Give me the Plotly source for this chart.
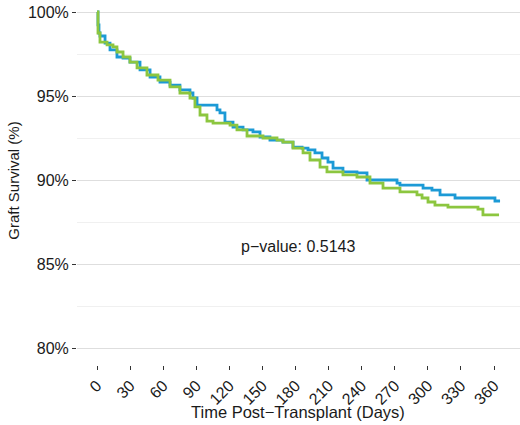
import plotly.graph_objects as go

# Kaplan-Meier style step data
blue_days = [0, 0.9, 1.8, 2.7, 7.3, 11.8, 18.1, 23.6, 29.9, 39.0, 48.1, 57.1, 66.2, 75.2, 84.3, 87.0,
             90.7, 104.3, 108.8, 111.5, 116.0, 123.3, 132.4, 141.4, 147.8, 156.8, 168.6, 177.7,
             185.9, 191.3, 197.6, 204.0, 209.4, 214.0, 223.0, 235.7, 244.8, 265.6, 272.0, 274.7,
             292.8, 295.6, 303.7, 311.0, 324.6, 359.0, 360.8, 365.4]
blue_surv = [100, 99.23, 98.75, 98.57, 98.15, 97.74, 97.32, 97.26, 97.02, 96.55, 96.13, 95.83, 95.65,
             95.36, 95.18, 94.88, 94.46, 94.46, 94.17, 93.99, 93.45, 93.15, 92.98, 92.86, 92.56,
             92.38, 92.26, 91.96, 91.90, 91.79, 91.61, 91.31, 91.07, 90.71, 90.48, 90.42, 90.0,
             90.0, 89.82, 89.70, 89.70, 89.52, 89.40, 89.11, 88.93, 88.93, 88.75, 88.75]

green_days = [0, 0.9, 2.7, 9.1, 14.5, 18.1, 23.6, 29.9, 36.3, 45.3, 55.3, 66.2, 75.2, 84.3, 88.8,
              93.4, 99.7, 105.2, 114.2, 120.6, 126.9, 136.0, 150.5, 163.2, 168.6, 177.7, 186.8,
              193.1, 202.2, 208.5, 223.0, 235.7, 247.5, 259.3, 274.7, 290.1, 294.7, 300.1, 306.4,
              318.2, 345.4, 349.9, 364.5]
green_surv = [100, 98.75, 98.21, 98.04, 97.92, 97.62, 97.32, 97.02, 96.67, 96.25, 95.95, 95.54,
              95.18, 94.88, 94.35, 93.87, 93.51, 93.39, 93.39, 93.27, 92.98, 92.62, 92.5, 92.38,
              92.26, 91.90, 91.61, 91.19, 90.77, 90.48, 90.30, 90.18, 89.82, 89.52, 89.29, 89.11,
              88.93, 88.69, 88.51, 88.39, 88.27, 87.92, 87.92]

x_ticks = list(range(0, 361, 30))
y_ticks = [80, 85, 90, 95, 100]
y_tick_labels = ["80%", "85%", "90%", "95%", "100%"]
p_value_text = "p\u2212value: 0.5143"
x_title = "Time Post\u2212Transplant (Days)"
y_title = "Graft Survival (%)"

fig = go.Figure()
fig.add_trace(go.Scatter(x=blue_days, y=blue_surv, mode="lines", line_shape="hv",
                         line=dict(color="#1C9AD6", width=2.8), showlegend=False))
fig.add_trace(go.Scatter(x=green_days, y=green_surv, mode="lines", line_shape="hv",
                         line=dict(color="#8CC63F", width=2.8), showlegend=False))

fig.add_annotation(x=181.8, y=86.07, text=p_value_text, showarrow=False,
                   xanchor="center", yanchor="middle",
                   font=dict(size=16, color="#1a1a1a"))
fig.add_annotation(x=0.499, y=-0.1288, xref="paper", yref="paper", text=x_title,
                   showarrow=False, xanchor="center", yanchor="middle",
                   font=dict(size=16.5, color="#1a1a1a"))
fig.add_annotation(x=-0.1422, y=0.505, xref="paper", yref="paper", text=y_title,
                   showarrow=False, xanchor="center", yanchor="middle", textangle=-90,
                   font=dict(size=15, color="#1a1a1a"))

font_family = "Liberation Sans, Arial, sans-serif"
fig.update_layout(
    width=520, height=425,
    margin=dict(l=77, r=0, t=0, b=60),
    paper_bgcolor="white", plot_bgcolor="white",
    font=dict(family=font_family, color="#1a1a1a"),
    xaxis=dict(range=[-18.13, 383.5], tickvals=x_ticks, ticktext=[str(v) for v in x_ticks],
               tickangle=-45, ticks="outside", ticklen=4, tickwidth=1, tickcolor="#333333",
               showgrid=False, zeroline=False, showline=False, automargin=False,
               tickfont=dict(size=16, color="#1a1a1a")),
    yaxis=dict(range=[78.99, 100.714], tickvals=y_ticks, ticktext=y_tick_labels,
               ticks="outside", ticklen=4, tickwidth=1, tickcolor="#333333",
               showgrid=True, gridcolor="#DEDEDE", gridwidth=1.3,
               minor=dict(tickvals=[82.5, 87.5, 92.5, 97.5], showgrid=True,
                          gridcolor="#F0F0F0", gridwidth=1, ticks=""),
               zeroline=False, showline=False, automargin=False,
               tickfont=dict(size=16, color="#1a1a1a")),
)

fig.write_html("out.html", config={"displayModeBar": False},
               post_script="document.body.style.margin='0px';document.body.style.overflow='hidden';")
